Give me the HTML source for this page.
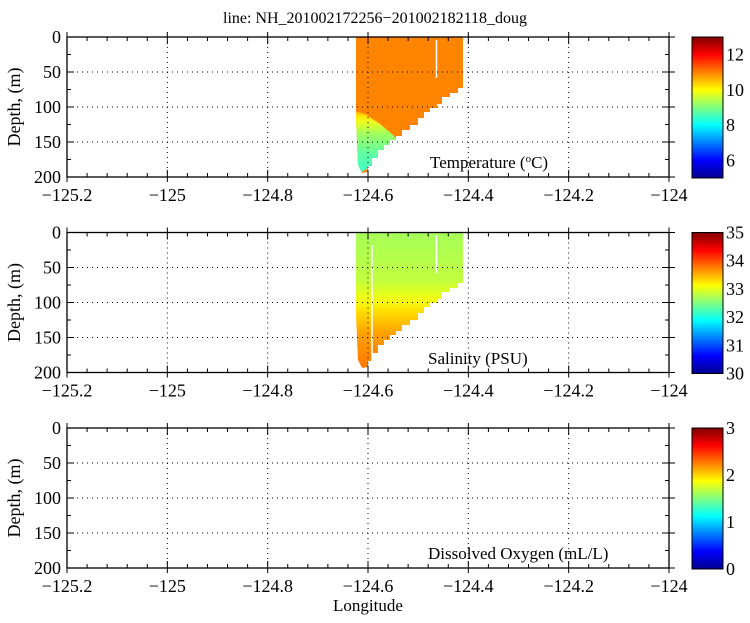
<!DOCTYPE html>
<html><head><meta charset="utf-8"><style>
html,body{margin:0;padding:0;background:#fff;}
svg, svg text{font-family:"Liberation Serif","DejaVu Serif",serif;}
</style></head><body>
<svg id="s" width="750" height="618" viewBox="0 0 750 618" xmlns="http://www.w3.org/2000/svg" font-family="Liberation Serif, serif">
<defs>
<linearGradient id="jet" x1="0" y1="1" x2="0" y2="0">
<stop offset="0" stop-color="#00008f"/><stop offset="0.125" stop-color="#0000ff"/><stop offset="0.375" stop-color="#00ffff"/><stop offset="0.625" stop-color="#ffff00"/><stop offset="0.875" stop-color="#ff0000"/><stop offset="1" stop-color="#800000"/>
</linearGradient>
<clipPath id="c1"><polygon points="356,37 463,37 463,88 458,88 458,93 450,93 450,97 442,97 442,104 437,104 437,108 430,108 430,112 424,112 424,118 418,118 418,125 410,125 410,130 402,130 402,136 396,136 396,140 390,140 390,145 384,145 384,150 378,150 378,158 372,158 372,166 368,166 368,172 362,173 358,165 356,120"/></clipPath>
<clipPath id="c2"><polygon points="356,232 463,232 463,283 458,283 458,288 450,288 450,292 442,292 442,299 437,299 437,303 430,303 430,307 424,307 424,313 418,313 418,320 410,320 410,325 402,325 402,331 396,331 396,335 390,335 390,340 384,340 384,345 378,345 378,353 372,353 372,361 368,361 368,367 362,368 358,360 356,315"/></clipPath>
<linearGradient id="tg" gradientUnits="userSpaceOnUse" x1="0" y1="108" x2="0" y2="173">
<stop offset="0" stop-color="#ff9a00"/><stop offset="0.12" stop-color="#ffe000"/><stop offset="0.22" stop-color="#eaff20"/><stop offset="0.4" stop-color="#a0ff60"/><stop offset="0.7" stop-color="#60ffa0"/><stop offset="1" stop-color="#40ffc8"/>
</linearGradient>
<linearGradient id="sg" gradientUnits="userSpaceOnUse" x1="0" y1="232" x2="0" y2="368">
<stop offset="0" stop-color="#a6ff5a"/><stop offset="0.35" stop-color="#c0ff40"/><stop offset="0.5" stop-color="#f4ff10"/><stop offset="0.6" stop-color="#ffd800"/><stop offset="0.75" stop-color="#ffa000"/><stop offset="1" stop-color="#ff7800"/>
</linearGradient>
</defs>
<text x="375" y="23" font-size="16" text-anchor="middle">line: NH_201002172256−201002182118_doug</text>
<g clip-path="url(#c1)">
<rect x="350" y="37" width="120" height="140" fill="#ff8400"/>
<polygon points="350,110 365,114 380,124 392,134 402,145 350,180" fill="url(#tg)"/>
</g>
<line x1="436.5" y1="40" x2="436.5" y2="78" stroke="#fff" stroke-width="1.5"/>
<g clip-path="url(#c2)"><rect x="350" y="232" width="120" height="140" fill="url(#sg)"/></g>
<line x1="372" y1="245" x2="372" y2="368" stroke="#fff" stroke-width="1.5"/>
<line x1="436.5" y1="235" x2="436.5" y2="273" stroke="#fff" stroke-width="1.5"/>
<g id="axes"></g>
<text x="430" y="168" font-size="17">Temperature (<tspan font-size="11" dy="-6">o</tspan><tspan dy="6">C)</tspan></text>
<text x="428" y="364" font-size="17">Salinity (PSU)</text>
<text x="428" y="559" font-size="17">Dissolved Oxygen (mL/L)</text>
<text x="368" y="611" font-size="17" text-anchor="middle">Longitude</text>
</svg>
<script>
var g=document.getElementById('axes'),ns="http://www.w3.org/2000/svg";
function el(t,a,txt){var e=document.createElementNS(ns,t);for(var k in a)e.setAttribute(k,a[k]);if(txt!=null){e.textContent=txt;e.setAttribute('font-family','Liberation Serif, serif');}g.appendChild(e);return e;}
var X0=67,X1=669,tops=[37,232.5,428],H=140;
var cb=[[5,13,[6,8,10,12]],[30,35,[30,31,32,33,34,35]],[0,3,[0,1,2,3]]];
for(var p=0;p<3;p++){
 var T=tops[p],B=T+H;
 for(var i=1;i<6;i++){var x=X0+i*(X1-X0)/6;el('line',{x1:x,y1:T,x2:x,y2:B,stroke:'#000','stroke-width':1,'stroke-dasharray':'1,4'});}
 for(var d=50;d<200;d+=50){var y=T+d*0.7;el('line',{x1:X0,y1:y,x2:X1,y2:y,stroke:'#000','stroke-width':1,'stroke-dasharray':'1,4'});}
 el('rect',{x:X0,y:T,width:X1-X0,height:H,fill:'none',stroke:'#000','stroke-width':1.3});
 for(var i=0;i<=30;i++){var x=X0+i*(X1-X0)/30,L=(i%5==0)?7:4;
  el('line',{x1:x,y1:T,x2:x,y2:T+L,stroke:'#000'});el('line',{x1:x,y1:B,x2:x,y2:B-L,stroke:'#000'});
  if(i%5==0){el('line',{x1:x,y1:B,x2:x,y2:B+5,stroke:'#000'});el('line',{x1:x,y1:T,x2:x,y2:T-5,stroke:'#000'});}}
 var xl=['−125.2','−125','−124.8','−124.6','−124.4','−124.2','−124'];
 for(var i=0;i<7;i++){el('text',{x:X0+i*(X1-X0)/6,y:B+24,'font-size':18,'text-anchor':'middle'},xl[i]);}
 for(var d=0;d<=200;d+=25){var y=T+d*0.7,L=(d%50==0)?7:4;
  el('line',{x1:X0,y1:y,x2:X0+L,y2:y,stroke:'#000'});el('line',{x1:X1,y1:y,x2:X1-L,y2:y,stroke:'#000'});
  if(d%50==0){el('text',{x:X0-6,y:y+6,'font-size':18,'text-anchor':'end'},String(d));el('line',{x1:X1,y1:y,x2:X1+6,y2:y,stroke:'#000'});}}
 el('text',{x:0,y:0,'font-size':18,'text-anchor':'middle',transform:'translate(20,'+(T+70)+') rotate(-90)'},'Depth, (m)');
 var c=cb[p];el('rect',{x:692,y:T,width:31,height:H+1,fill:'url(#jet)',stroke:'#000','stroke-width':1});
 for(var j=0;j<c[2].length;j++){var v=c[2][j],y=T+H+1-(v-c[0])/(c[1]-c[0])*(H+1);
  el('text',{x:726,y:y+6,'font-size':18},String(v));}
}
</script>
</body></html>
